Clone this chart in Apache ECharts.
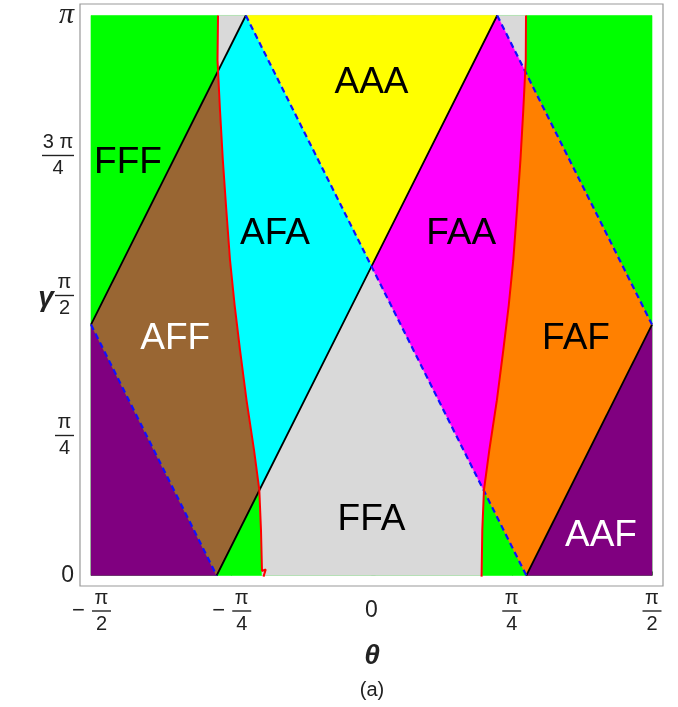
<!DOCTYPE html>
<html>
<head>
<meta charset="utf-8">
<script src="https://cdn.jsdelivr.net/npm/echarts@6/dist/echarts.min.js"></script>
<style>
  html, body { margin: 0; padding: 0; background: #ffffff; }
  #chart { width: 678px; height: 707px; }
</style>
</head>
<body>
<div id="chart"></div>
<script>
// All angles are expressed in units of π (θ horizontally, γ vertically).

// Axis ticks and their labels
const thetaTicks = [-0.5, -0.25, 0, 0.25, 0.5];
const thetaTickLabels = ['−π/2', '−π/4', '0', 'π/4', 'π/2'];
const gammaTicks = [0, 0.25, 0.5, 0.75, 1];
const gammaTickLabels = ['0', 'π/4', 'π/2', '3 π/4', 'π'];

// Corners of the phase diagram where the straight boundaries meet
const leftTip = [-0.5, 0.448];
const rightTip = [0.5, 0.448];
const topLeft = [-0.224, 1];
const topRight = [0.224, 1];
const bottomLeft = [-0.276, 0];
const bottomRight = [0.276, 0];
const center = [0, 0.552];

// Curved (red) phase boundaries, read from top to bottom
const leftEdge = [
  [-0.2736, 1.0], [-0.2745, 0.92], [-0.2700, 0.83], [-0.2650, 0.742],
  [-0.2590, 0.655], [-0.2522, 0.563], [-0.2440, 0.483], [-0.2344, 0.403],
  [-0.2228, 0.313], [-0.2094, 0.224], [-0.2000, 0.153], [-0.1970, 0.081],
  [-0.1952, 0.008]
];
const leftHook = [[-0.1885, 0.011], [-0.1925, -0.002]];
const rightEdge = [
  [0.2754, 1.0], [0.2750, 0.92], [0.2705, 0.83], [0.2655, 0.742],
  [0.2595, 0.655], [0.2527, 0.563], [0.2447, 0.483], [0.2350, 0.403],
  [0.2235, 0.313], [0.2100, 0.224], [0.2005, 0.153], [0.1975, 0.081],
  [0.1964, 0.008]
];
const rightHook = [[0.1930, 0.005], [0.1962, -0.002]];

// Phase names and where they sit
const regionNames = ['FFF', 'AAA', 'AFA', 'FAA', 'AFF', 'FAF', 'FFA', 'AAF'];
const regionTheta = [-0.434, 0.0, -0.172, 0.160, -0.350, 0.3645, 0.0, 0.409];
const regionGamma = [0.737, 0.879, 0.610, 0.610, 0.422, 0.422, 0.099, 0.0705];
const lightNames = ['AFF', 'AAF'];

// ---------- geometry helpers ----------
function intersect(p, q, a, b) {
  const d1 = [q[0] - p[0], q[1] - p[1]];
  const d2 = [b[0] - a[0], b[1] - a[1]];
  const den = d1[0] * d2[1] - d1[1] * d2[0];
  const t = ((a[0] - p[0]) * d2[1] - (a[1] - p[1]) * d2[0]) / den;
  return [p[0] + t * d1[0], p[1] + t * d1[1]];
}
// Sutherland–Hodgman clipping of any polygon against a convex one
function clipPolygon(subject, clip) {
  let area = 0;
  for (let i = 0; i < clip.length; i++) {
    const p = clip[i], q = clip[(i + 1) % clip.length];
    area += p[0] * q[1] - q[0] * p[1];
  }
  const s = Math.sign(area);
  let output = subject.slice();
  for (let i = 0; i < clip.length; i++) {
    const a = clip[i], b = clip[(i + 1) % clip.length];
    const inside = p => s * ((b[0] - a[0]) * (p[1] - a[1]) - (b[1] - a[1]) * (p[0] - a[0])) >= 0;
    const input = output;
    output = [];
    for (let j = 0; j < input.length; j++) {
      const cur = input[j], prev = input[(j + input.length - 1) % input.length];
      const ci = inside(cur), pi = inside(prev);
      if (ci) {
        if (!pi) output.push(intersect(prev, cur, a, b));
        output.push(cur);
      } else if (pi) {
        output.push(intersect(prev, cur, a, b));
      }
    }
  }
  return output;
}

// ---------- regions ----------
const leftCurve = leftEdge.concat([[leftEdge[leftEdge.length - 1][0], 0]]);
const rightCurve = rightEdge.concat([[rightEdge[rightEdge.length - 1][0], 0]]);
const outerLeft = [[-0.5, 1]].concat(leftCurve, [[-0.5, 0]]);
const middle = leftCurve.concat(rightCurve.slice().reverse());
const outerRight = rightCurve.concat([[0.5, 0], [0.5, 1]]);
const leftDiamond = [leftTip, topLeft, center, bottomLeft];
const rightDiamond = [center, topRight, rightTip, bottomRight];

const COLORS = {
  green: '#00ff00', gray: '#d9d9d9', yellow: '#ffff00', cyan: '#00ffff',
  magenta: '#ff00ff', brown: '#996633', orange: '#ff8000', purple: '#800080'
};

const polygons = [
  [[[-0.5, 0], [-0.5, 1], [0.5, 1], [0.5, 0]], COLORS.green],
  [middle, COLORS.gray],
  [[[-0.5, 0], leftTip, bottomLeft], COLORS.purple],
  [[bottomRight, rightTip, [0.5, 0]], COLORS.purple],
  [[topLeft, topRight, center], COLORS.yellow],
  [clipPolygon(outerLeft, leftDiamond), COLORS.brown],
  [clipPolygon(middle, leftDiamond), COLORS.cyan],
  [clipPolygon(middle, rightDiamond), COLORS.magenta],
  [clipPolygon(outerRight, rightDiamond), COLORS.orange]
];

function polygonSeries(points, color, z) {
  return {
    type: 'custom',
    coordinateSystem: 'cartesian2d',
    silent: true,
    z: z,
    data: [[0, 0]],
    renderItem: function (params, api) {
      return {
        type: 'polygon',
        shape: { points: points.map(p => api.coord(p)) },
        style: { fill: color, stroke: color, lineWidth: 0.6 }
      };
    }
  };
}

function lineSeries(points, style, z) {
  return {
    type: 'line',
    data: points,
    showSymbol: false,
    silent: true,
    z: z,
    lineStyle: style
  };
}

const series = [];
polygons.forEach((pg, i) => series.push(polygonSeries(pg[0], pg[1], 1 + i * 0.01)));

const blackStyle = { color: '#000000', width: 1.8 };
const blueStyle = { color: '#1010ff', width: 2.2, type: [6, 4] };
const redStyle = { color: '#ff0000', width: 2 };

series.push(lineSeries([leftTip, topLeft], blackStyle, 5));
series.push(lineSeries([bottomLeft, center, topRight], blackStyle, 5));
series.push(lineSeries([bottomRight, rightTip], blackStyle, 5));
series.push(lineSeries([topLeft, center, bottomRight], blueStyle, 5));
series.push(lineSeries([leftTip, bottomLeft], blueStyle, 5));
series.push(lineSeries([topRight, rightTip], blueStyle, 5));
series.push(lineSeries(leftEdge.concat(leftHook), redStyle, 6));
series.push(lineSeries(rightEdge.concat(rightHook), redStyle, 6));

series.push({
  type: 'scatter',
  silent: true,
  z: 8,
  symbolSize: 0,
  itemStyle: { opacity: 1 },
  data: regionNames.map((n, i) => ({
    name: n,
    value: [regionTheta[i], regionGamma[i]],
    label: { color: lightNames.indexOf(n) >= 0 ? '#ffffff' : '#000000' }
  })),
  label: {
    show: true,
    position: 'inside',
    formatter: p => p.name,
    fontSize: 37,
    fontFamily: '"Liberation Sans", Arial, sans-serif',
    opacity: 1
  }
});

// ---------- tick labels as stacked fractions ----------
const FONT = '"Liberation Sans", Arial, sans-serif';
function findLabel(v, ticks, labels) {
  for (let i = 0; i < ticks.length; i++) if (Math.abs(ticks[i] - v) < 1e-6) return labels[i];
  return '';
}
function fractionText(label) {
  if (label.indexOf('/') < 0) {
    return label === 'π' ? '{p|π}' : '{z|' + label + '}';
  }
  let sign = '';
  let body = label;
  if (body[0] === '−') { sign = '−'; body = body.slice(1); }
  const parts = body.split('/');
  const wide = parts[0].length > 1 ? 'w' : '';
  if (sign) {
    return '{s|}{n' + wide + '|' + parts[0] + '}\n{m|−}{g|}{b' + wide + '|}\n{s|}{d' + wide + '|' + parts[1] + '}';
  }
  return '{n' + wide + '|' + parts[0] + '}\n{b' + wide + '|}\n{d' + wide + '|' + parts[1] + '}';
}
const rich = {
  n: { fontSize: 20, fontFamily: FONT, width: 19, align: 'center', lineHeight: 20, color: '#222' },
  d: { fontSize: 20, fontFamily: FONT, width: 19, align: 'center', lineHeight: 20, color: '#222' },
  b: { width: 19, height: 1.4, backgroundColor: '#222', lineHeight: 6 },
  nw: { fontSize: 20, fontFamily: FONT, width: 32, align: 'center', lineHeight: 20, color: '#222' },
  dw: { fontSize: 20, fontFamily: FONT, width: 32, align: 'center', lineHeight: 20, color: '#222' },
  bw: { width: 32, height: 1.4, backgroundColor: '#222', lineHeight: 6 },
  m: { fontSize: 22, fontFamily: FONT, width: 15, align: 'center', lineHeight: 6, color: '#222' },
  g: { width: 6, height: 1 },
  s: { width: 21, height: 1 },
  z: { fontSize: 23, fontFamily: FONT, lineHeight: 46, color: '#222' },
  p: { fontSize: 30, fontFamily: '"Liberation Serif", serif', fontStyle: 'italic', color: '#222', lineHeight: 30 }
};

const chart = echarts.init(document.getElementById('chart'), null, { renderer: 'canvas' });
chart.setOption({
  animation: false,
  backgroundColor: '#ffffff',
  grid: {
    left: 80, right: 15, top: 4, bottom: 121,
    show: true, borderColor: '#999999', borderWidth: 1.2, backgroundColor: '#ffffff'
  },
  xAxis: {
    type: 'value',
    min: -0.5196, max: 0.5196,
    splitLine: { show: false },
    axisLine: { show: false },
    axisTick: { show: true, inside: true, length: 4, customValues: thetaTicks, lineStyle: { color: '#555' } },
    axisLabel: {
      customValues: thetaTicks,
      margin: 2,
      formatter: v => fractionText(findLabel(v, thetaTicks, thetaTickLabels)),
      rich: rich
    }
  },
  yAxis: {
    type: 'value',
    min: -0.01875, max: 1.0205,
    splitLine: { show: false },
    axisLine: { show: false },
    axisTick: { show: true, inside: true, length: 4, customValues: gammaTicks, lineStyle: { color: '#555' } },
    axisLabel: {
      customValues: gammaTicks,
      margin: 6,
      formatter: v => fractionText(findLabel(v, gammaTicks, gammaTickLabels)),
      rich: rich
    }
  },
  graphic: [
    { type: 'text', x: 46, y: 298, style: { text: 'γ', font: 'italic bold 28px "Liberation Sans", Arial, sans-serif', fill: '#222', align: 'center', verticalAlign: 'middle' } },
    { type: 'text', x: 372, y: 656, style: { text: 'θ', font: 'italic bold 28px "Liberation Sans", Arial, sans-serif', fill: '#222', align: 'center', verticalAlign: 'middle' } },
    { type: 'text', x: 372, y: 690, style: { text: '(a)', font: '20px "Liberation Sans", Arial, sans-serif', fill: '#222', align: 'center', verticalAlign: 'middle' } }
  ],
  series: series
});
</script>
</body>
</html>
